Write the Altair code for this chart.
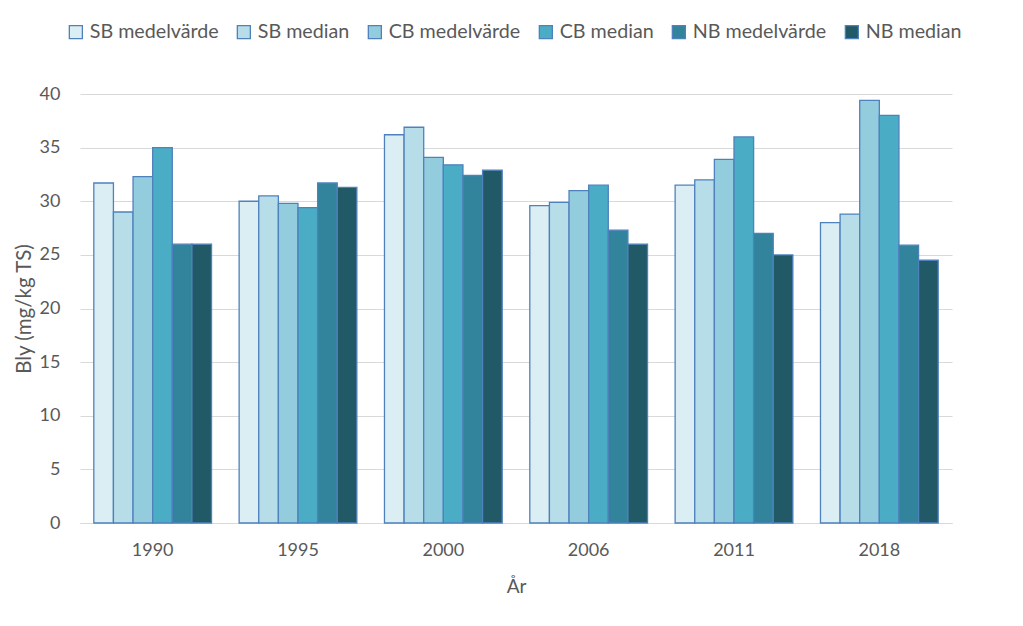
import altair as alt
import pandas as pd

years = ["1990", "1995", "2000", "2006", "2011", "2018"]
series = ["SB medelvärde", "SB median", "CB medelvärde", "CB median", "NB medelvärde", "NB median"]
colors = ["#DAEEF3", "#B7DDE8", "#93CDDD", "#4BACC6", "#31849B", "#215967"]

sb_mean = [31.7, 30.0, 36.2, 29.6, 31.5, 28.0]
sb_median = [29.0, 30.5, 36.9, 29.9, 32.0, 28.8]
cb_mean = [32.3, 29.8, 34.1, 31.0, 33.9, 39.4]
cb_median = [35.0, 29.4, 33.4, 31.5, 36.0, 38.0]
nb_mean = [26.0, 31.7, 32.4, 27.3, 27.0, 25.9]
nb_median = [26.0, 31.3, 32.9, 26.0, 25.0, 24.5]

values = [sb_mean, sb_median, cb_mean, cb_median, nb_mean, nb_median]
rows = []
for s, vals in zip(series, values):
    for y, v in zip(years, vals):
        rows.append({"year": y, "series": s, "value": v})
df = pd.DataFrame(rows)

FONT = "Lato"
TXT = "#595959"

chart = alt.Chart(df).mark_bar(stroke="#4F81BD", strokeWidth=1.3).encode(
    x=alt.X("year:N", sort=years,
            scale=alt.Scale(paddingInner=0.19, paddingOuter=0.095),
            axis=alt.Axis(title="År", labelAngle=0, ticks=False, domainColor="#D9D9D9",
                          domainWidth=1, labelPadding=18, titlePadding=18)),
    xOffset=alt.XOffset("series:N", sort=series, scale=alt.Scale(paddingInner=0, paddingOuter=0)),
    y=alt.Y("value:Q", scale=alt.Scale(domain=[0, 40], nice=False),
            axis=alt.Axis(title="Bly (mg/kg TS)", values=[0, 5, 10, 15, 20, 25, 30, 35, 40],
                          ticks=False, domain=False, gridColor="#D9D9D9", labelPadding=20,
                          titlePadding=5, titleFontSize=20.5)),
    color=alt.Color("series:N", sort=series,
                    scale=alt.Scale(domain=series, range=colors),
                    legend=alt.Legend(title=None, orient="none", legendX=-14, legendY=-72,
                                      direction="horizontal", columns=6, symbolType="square",
                                      symbolSize=170, symbolStrokeColor="#4F81BD",
                                      symbolStrokeWidth=1.3, labelFontSize=19.7, columnPadding=15,
                                      labelOffset=4)),
).properties(
    width=872, height=429,
    autosize="none",
    padding={"left": 72, "top": 86, "right": 63, "bottom": 95},
).configure_view(stroke=None).configure_axis(
    labelFont=FONT, titleFont=FONT, labelColor=TXT, titleColor=TXT,
    labelFontSize=18, titleFontSize=19, titleFontWeight="normal",
).configure_legend(labelFont=FONT, labelColor=TXT)

chart.save("out.html", embed_options={"renderer": "svg", "actions": False})
